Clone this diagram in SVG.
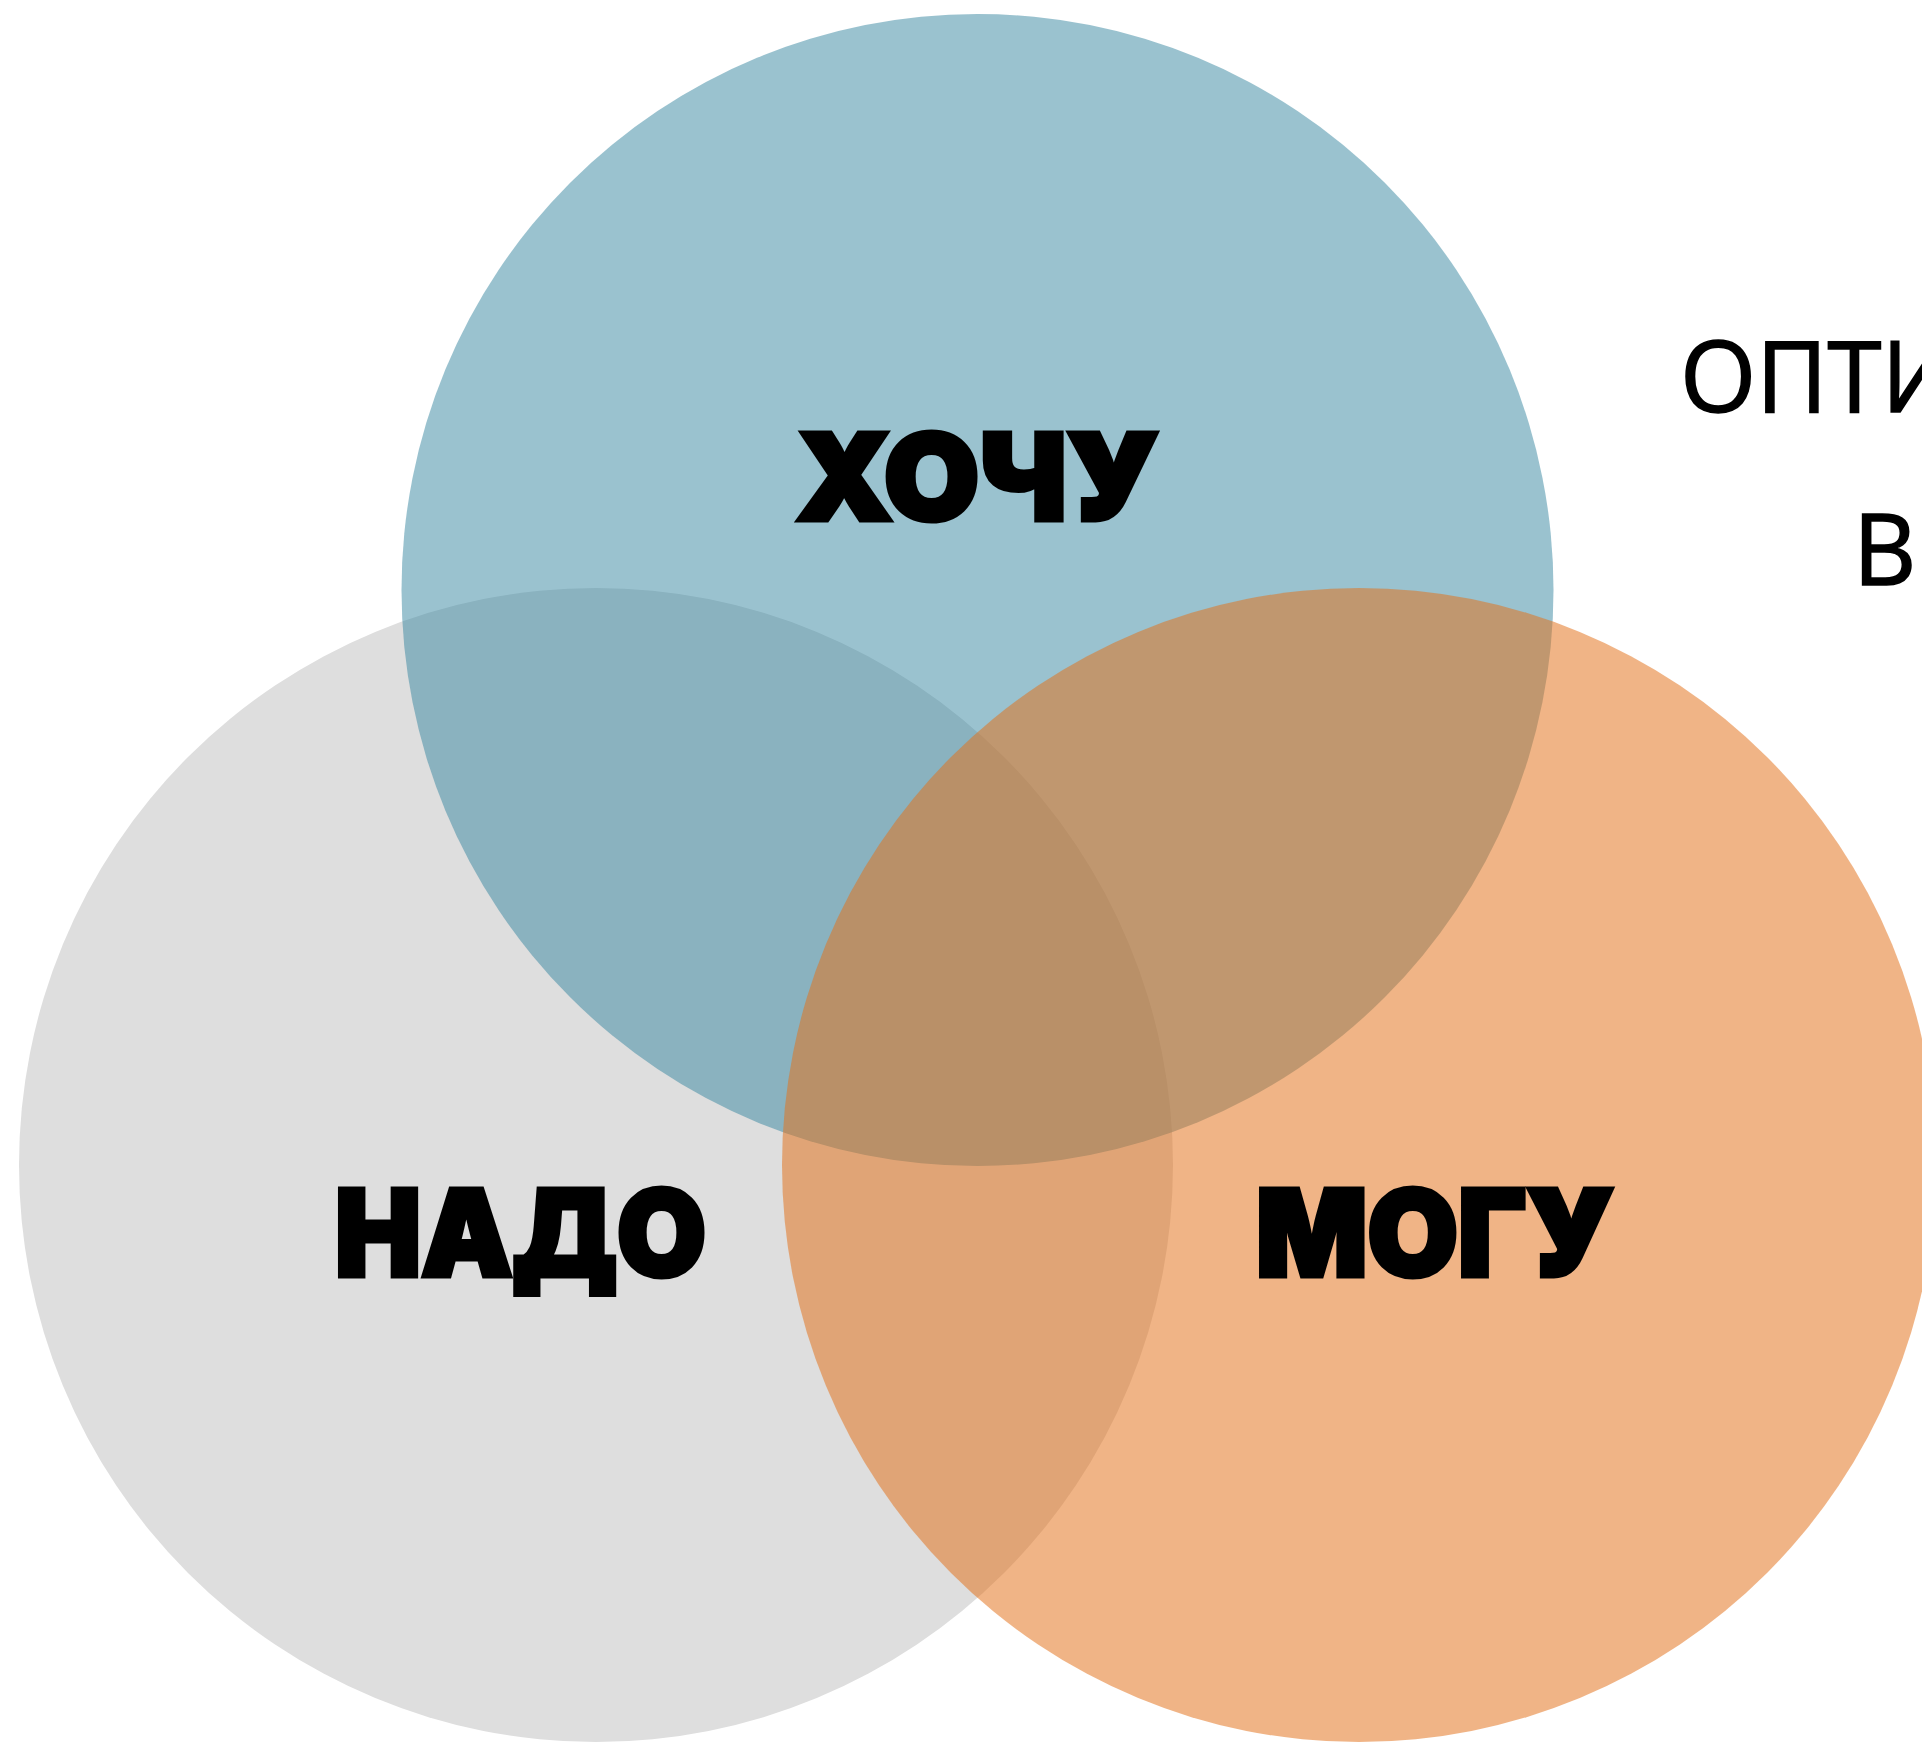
<svg xmlns="http://www.w3.org/2000/svg" width="1922" height="1742" viewBox="0 0 1922 1742">
<style>
.lbl{font-family:"Inter","Lato","Liberation Sans",sans-serif;font-weight:900;font-size:119px;fill:#000;stroke:#000;stroke-width:5;stroke-linejoin:miter}
.side{font-family:"Open Sans","Noto Sans","Liberation Sans",sans-serif;font-size:98px;fill:#000;stroke:#000;stroke-width:1.5}
</style>
<rect width="1922" height="1742" fill="#fff"/>
<g id="nado">
<circle cx="596" cy="1165" r="577" fill="#dedede"/>
</g>
<g id="hochu">
<circle cx="977.5" cy="590" r="576" fill="#3585a0" fill-opacity="0.5"/>
</g>
<g id="mogu">
<circle cx="1359" cy="1165" r="577" fill="#e3721a" fill-opacity="0.53"/>
</g>
<g id="labels">
<text class="lbl" x="796" y="520" textLength="363" lengthAdjust="spacingAndGlyphs">ХОЧУ</text>
<text class="lbl" x="335" y="1276" textLength="371" lengthAdjust="spacingAndGlyphs">НАДО</text>
<text class="lbl" x="1256" y="1276" textLength="358" lengthAdjust="spacingAndGlyphs">МОГУ</text>
</g>
<g id="side-note">
<text class="side" x="1680" y="412">ОПТИ</text>
<text class="side" x="1853" y="585">В</text>
</g>
<g id="connectors"/>
</svg>
